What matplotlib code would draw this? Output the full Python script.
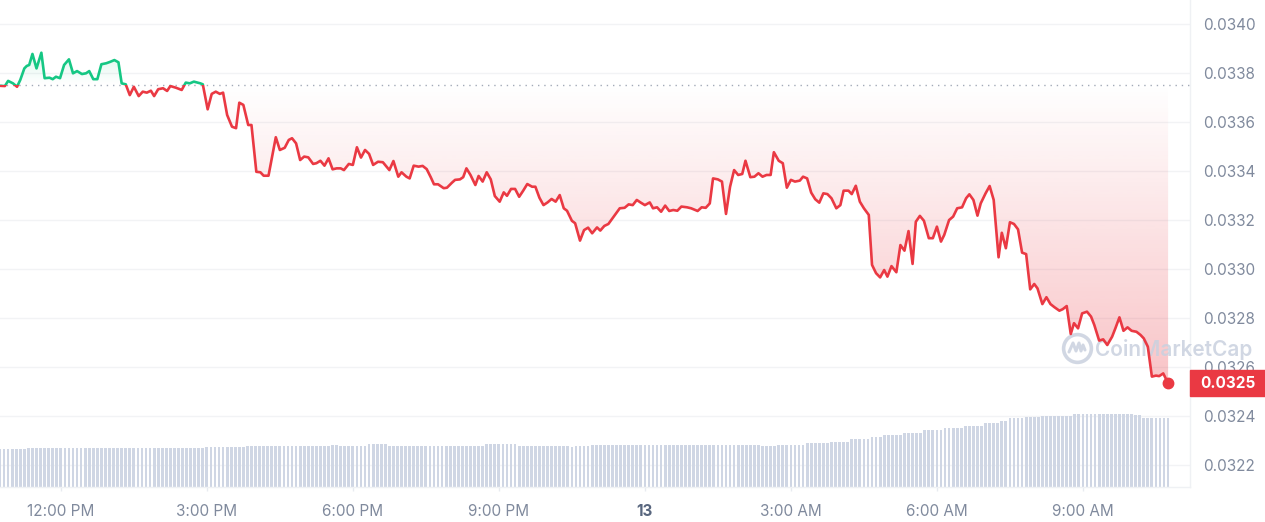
import numpy as np
import matplotlib
matplotlib.use("Agg")
import matplotlib.pyplot as plt
import matplotlib.transforms as mtransforms
from matplotlib.patches import Rectangle
from matplotlib.path import Path

plt.rcParams['font.family'] = ['Inter', 'DejaVu Sans']

GREEN = '#16c784'
RED = '#ea3943'
GREY = '#808a9d'

# price, minutes after 10:45 AM on the 12th
minutes = [
    0, 6, 10, 16, 21, 25, 30, 33, 36, 40, 45, 51, 55, 61, 65, 69, 74, 79, 85, 90,
    95, 101, 106, 110, 115, 120, 125, 131, 136, 141, 146, 150, 155, 160, 165, 171, 176, 181, 186, 190,
    195, 201, 206, 210, 217, 224, 229, 234, 239, 247, 250, 256, 261, 266, 271, 275, 280, 286, 291, 295,
    300, 306, 310, 316, 321, 325, 331, 340, 345, 351, 356, 360, 365, 370, 375, 380, 386, 390, 395, 400,
    405, 410, 415, 420, 424, 430, 435, 440, 445, 450, 455, 460, 466, 472, 480, 485, 491, 495, 501, 505,
    510, 516, 521, 526, 531, 535, 540, 547, 551, 557, 561, 567, 571, 575, 580, 586, 590, 595, 600, 605,
    610, 616, 621, 625, 630, 635, 640, 645, 650, 656, 660, 665, 670, 675, 680, 685, 690, 695, 699, 705,
    709, 715, 720, 725, 730, 736, 740, 745, 750, 758, 764, 770, 775, 780, 785, 790, 795, 801, 805, 810,
    815, 820, 825, 830, 835, 840, 847, 852, 860, 865, 870, 875, 879, 885, 890, 895, 900, 905, 910, 915,
    919, 925, 930, 935, 940, 945, 950, 954, 960, 965, 970, 975, 980, 986, 990, 995, 1000, 1005, 1010, 1015,
    1020, 1025, 1031, 1036, 1040, 1046, 1050, 1055, 1060, 1065, 1071, 1075, 1080, 1085, 1090, 1094, 1099, 1105, 1110, 1115,
    1120, 1125, 1129, 1134, 1139, 1145, 1150, 1155, 1160, 1164, 1170, 1175, 1180, 1186, 1191, 1195, 1200, 1205, 1209, 1215,
    1220, 1225, 1231, 1235, 1240, 1245, 1250, 1255, 1260, 1265, 1270, 1275, 1279, 1285, 1290, 1295, 1300, 1306, 1310, 1315,
    1320, 1324, 1329, 1334, 1340, 1345, 1349, 1355, 1360, 1365, 1371, 1375, 1380, 1385, 1390, 1395, 1401, 1406, 1410, 1415,
    1420, 1425, 1429, 1434, 1440,
]
price = [
    0.033749, 0.033748, 0.033769, 0.033759, 0.033745, 0.033773, 0.033820, 0.033830, 0.033834, 0.033879,
    0.033820, 0.033884, 0.033780, 0.033782, 0.033776, 0.033786, 0.033780, 0.033834, 0.033857, 0.033800,
    0.033809, 0.033797, 0.033800, 0.033809, 0.033776, 0.033776, 0.033837, 0.033841, 0.033847, 0.033854,
    0.033845, 0.033759, 0.033755, 0.033711, 0.033745, 0.033707, 0.033725, 0.033721, 0.033729, 0.033707,
    0.033735, 0.033739, 0.033728, 0.033748, 0.033741, 0.033732, 0.033762, 0.033759, 0.033766, 0.033759,
    0.033755, 0.033653, 0.033716, 0.033725, 0.033716, 0.033721, 0.033630, 0.033582, 0.033576, 0.033680,
    0.033671, 0.033589, 0.033589, 0.033398, 0.033396, 0.033382, 0.033382, 0.033539, 0.033487, 0.033496,
    0.033528, 0.033535, 0.033514, 0.033446, 0.033460, 0.033457, 0.033430, 0.033433, 0.033443, 0.033423,
    0.033453, 0.033408, 0.033412, 0.033412, 0.033405, 0.033430, 0.033426, 0.033498, 0.033456, 0.033487,
    0.033471, 0.033426, 0.033439, 0.033437, 0.033405, 0.033442, 0.033378, 0.033396, 0.033378, 0.033371,
    0.033423, 0.033419, 0.033422, 0.033409, 0.033376, 0.033347, 0.033347, 0.033331, 0.033333, 0.033353,
    0.033365, 0.033367, 0.033376, 0.033412, 0.033385, 0.033344, 0.033381, 0.033358, 0.033396, 0.033367,
    0.033299, 0.033276, 0.033314, 0.033300, 0.033328, 0.033328, 0.033296, 0.033321, 0.033348, 0.033337,
    0.033337, 0.033292, 0.033262, 0.033273, 0.033287, 0.033276, 0.033303, 0.033249, 0.033239, 0.033198,
    0.033188, 0.033117, 0.033160, 0.033170, 0.033147, 0.033171, 0.033158, 0.033177, 0.033185, 0.033222,
    0.033249, 0.033251, 0.033265, 0.033262, 0.033283, 0.033272, 0.033262, 0.033273, 0.033249, 0.033253,
    0.033235, 0.033260, 0.033238, 0.033242, 0.033239, 0.033256, 0.033253, 0.033249, 0.033238, 0.033253,
    0.033251, 0.033269, 0.033371, 0.033367, 0.033358, 0.033226, 0.033337, 0.033405, 0.033385, 0.033389,
    0.033443, 0.033376, 0.033378, 0.033392, 0.033378, 0.033385, 0.033385, 0.033478, 0.033443, 0.033433,
    0.033333, 0.033365, 0.033358, 0.033362, 0.033378, 0.033371, 0.033313, 0.033286, 0.033272, 0.033310,
    0.033307, 0.033290, 0.033249, 0.033262, 0.033321, 0.033321, 0.033307, 0.033341, 0.033276, 0.033249,
    0.033222, 0.033018, 0.032984, 0.032967, 0.032997, 0.032970, 0.033013, 0.032988, 0.033099, 0.033076,
    0.033156, 0.033022, 0.033194, 0.033218, 0.033198, 0.033127, 0.033127, 0.033174, 0.033113, 0.033140,
    0.033201, 0.033215, 0.033249, 0.033253, 0.033290, 0.033306, 0.033283, 0.033219, 0.033269, 0.033310,
    0.033340, 0.033283, 0.033049, 0.033149, 0.033086, 0.033192, 0.033185, 0.033163, 0.033068, 0.033062,
    0.032918, 0.032940, 0.032922, 0.032858, 0.032886, 0.032858, 0.032845, 0.032831, 0.032837, 0.032850,
    0.032736, 0.032780, 0.032759, 0.032820, 0.032827, 0.032807, 0.032773, 0.032709, 0.032714, 0.032691,
    0.032725, 0.032759, 0.032804, 0.032749, 0.032763, 0.032749, 0.032745, 0.032732, 0.032718, 0.032684,
    0.032562, 0.032566, 0.032564, 0.032575, 0.032535,
]
open_price = 0.033752

# 24h volume, one bar every 5 minutes, read as runs of equal bars (millions)
vol_levels = [3.77, 3.87, 3.93, 4.03, 4.13, 4.23, 4.13, 4.27, 4.13, 4.27, 4.13, 4.03, 4.13, 4.25,
              4.20, 4.10, 4.20, 4.37, 4.53, 4.77, 4.97, 5.20, 5.43, 5.70, 5.87, 6.13, 6.37, 6.63,
              6.87, 7.03, 7.10, 7.27, 7.17, 6.93]
vol_counts = [7, 30, 14, 10, 21, 2, 7, 5, 24, 8, 13, 1, 4, 12,
              30, 4, 7, 6, 5, 5, 3, 5, 5, 5, 5, 5, 4, 2,
              4, 4, 8, 15, 2, 7]
volume = np.repeat(vol_levels, vol_counts)
vol_minutes = np.arange(0, 1441, 5)
vol_panel = 48.7  # volume value matching the full panel height

tick_minutes = [75, 255, 435, 615, 795, 975, 1155, 1335]
tick_labels = ['12:00 PM', '3:00 PM', '6:00 PM', '9:00 PM', '13', '3:00 AM', '6:00 AM', '9:00 AM']
y_ticks = [0.0322, 0.0324, 0.0326, 0.0328, 0.0330, 0.0332, 0.0334, 0.0336, 0.0338, 0.0340]

fig = plt.figure(figsize=(12.65, 5.22), dpi=100)
ax = fig.add_axes([0, 35 / 522, 1190 / 1265, 487 / 522])

# volume bars in the bottom of the panel
ax.bar(vol_minutes, volume / vol_panel, width=3.4, color='#cfd6e4', lw=0,
       transform=ax.get_xaxis_transform(), zorder=1)

# gradient fills between the line and the opening price
poly = ax.fill_between(minutes, price, open_price, color='none', lw=0)
clip = Path.make_compound_path(*poly.get_paths())
poly.set_visible(False)

n = 256
red_grad = np.zeros((n, 1, 4))
red_grad[..., :3] = matplotlib.colors.to_rgb(RED)
red_grad[:, 0, 3] = np.linspace(0.0, 0.30, n)
im = ax.imshow(red_grad, extent=[0, minutes[-1], min(price), open_price],
               aspect='auto', origin='upper', zorder=2, interpolation='bilinear')
im.set_clip_path(clip, ax.transData)

green_grad = np.zeros((n, 1, 4))
green_grad[..., :3] = matplotlib.colors.to_rgb(GREEN)
green_grad[:, 0, 3] = np.linspace(0.14, 0.0, n)
im2 = ax.imshow(green_grad, extent=[0, minutes[-1], open_price, max(price)],
                aspect='auto', origin='upper', zorder=2, interpolation='bilinear')
im2.set_clip_path(clip, ax.transData)

# opening price reference
ax.axhline(open_price, color='#a3aab8', lw=1, ls=(0, (1, 3.5)), zorder=3)

# price line: green above the open, red below
above = Rectangle((-100, open_price), 3000, 1, transform=ax.transData)
below = Rectangle((-100, 0), 3000, open_price, transform=ax.transData)
lg, = ax.plot(minutes, price, color=GREEN, lw=1.9, solid_joinstyle='round', zorder=5)
lg.set_clip_path(above)
lr, = ax.plot(minutes, price, color=RED, lw=1.9, solid_joinstyle='round', zorder=5)
lr.set_clip_path(below)
ax.plot(minutes[-1], price[-1], 'o', color=RED, ms=7.5, zorder=6, clip_on=False)

# watermark
wm = '#c9d1df'
ax.text(1095 / 1265, 1 - 349 / 522, 'CoinMarketCap', transform=fig.transFigure,
        fontsize=15, fontweight='semibold', color=wm, alpha=0.85, va='center', ha='left',
        zorder=4, clip_on=False)
ax.plot([1077 / 1265], [1 - 348 / 522], marker='o', ms=20, mfc='none', mec=wm, mew=2.6,
        alpha=0.85, transform=fig.transFigure, zorder=4, clip_on=False)
mx = np.array([-8, -4, -1, 2, 4, 6, 8]) / 1265 + 1077 / 1265
my = 1 - (348 + np.array([4, -5, 3, -5, 3, -3, 2])) / 522
ax.plot(mx, my, color=wm, lw=2.2, alpha=0.85, transform=fig.transFigure, zorder=4,
        clip_on=False, solid_joinstyle='round', solid_capstyle='round')

# axes
ax.set_xlim(0, 1467)
ax.set_ylim(0.0321114, 0.0340992)
ax.yaxis.tick_right()
ax.set_yticks(y_ticks, [f'{v:.4f}' for v in y_ticks])
ax.set_xticks(tick_minutes, tick_labels)
ax.tick_params(axis='y', length=0, pad=9.5, labelsize=11, labelcolor=GREY)
ax.tick_params(axis='x', length=3, width=1, color='#e8ebf0', pad=9, labelsize=11, labelcolor=GREY)
lab13 = ax.get_xticklabels()[4]
lab13.set_fontweight('bold')
lab13.set_color('#58667e')
ax.grid(axis='y', color='#f2f3f5', lw=1, zorder=0)
ax.set_axisbelow(True)
for side in ['top', 'left']:
    ax.spines[side].set_visible(False)
for side in ['right', 'bottom']:
    ax.spines[side].set_color('#eff1f4')
    ax.spines[side].set_linewidth(1)

# current price tag
trans = mtransforms.blended_transform_factory(ax.transAxes, ax.transData)
ax.add_patch(Rectangle((1.0, price[-1] - 5.4e-5), 75 / 1190, 1.08e-4, transform=trans,
                       color=RED, clip_on=False, zorder=10))
ax.text(1.0 + 37.5 / 1190, price[-1], '0.0325', transform=trans, ha='center', va='center',
        color='white', fontsize=11, fontweight='bold', zorder=11, clip_on=False)

fig.savefig('out.png', dpi=100)
